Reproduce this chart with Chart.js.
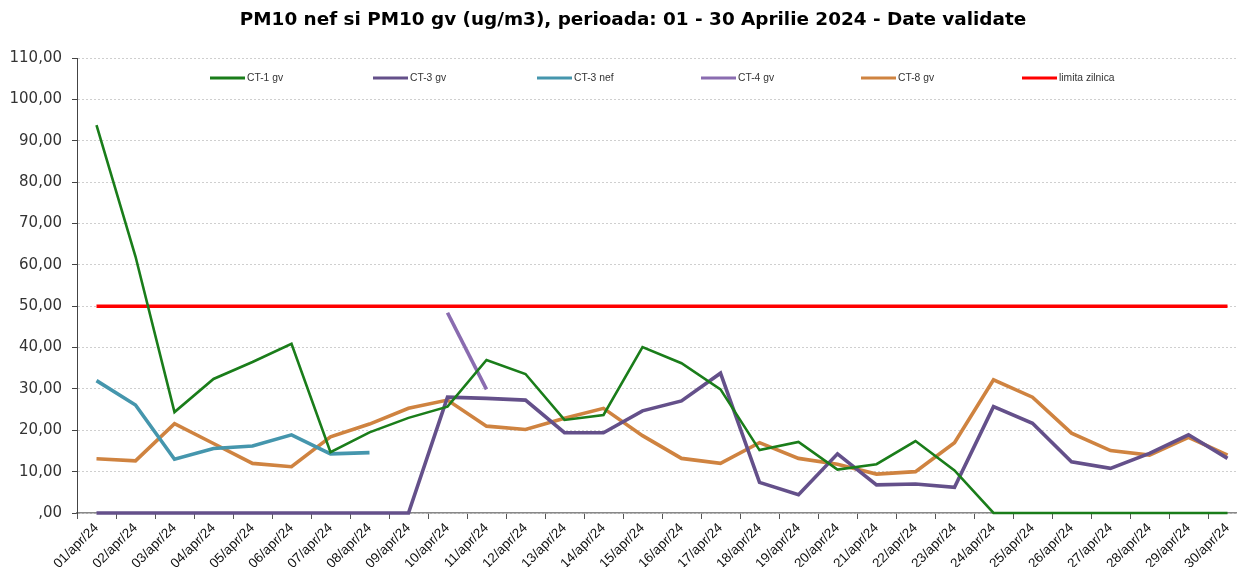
<!DOCTYPE html>
<html>
<head>
<meta charset="utf-8">
<script src="https://cdn.jsdelivr.net/npm/chart.js@4.4.1/dist/chart.umd.min.js"></script>
<style>
  html, body { margin: 0; padding: 0; background: #fff; overflow: hidden; }
  #wrap { width: 1247px; height: 567px; }
</style>
</head>
<body>
<div id="wrap"><canvas id="pm10_chart" width="1247" height="567"></canvas></div>
<script>
const days = [
  "01/apr/24", "02/apr/24", "03/apr/24", "04/apr/24", "05/apr/24", "06/apr/24",
  "07/apr/24", "08/apr/24", "09/apr/24", "10/apr/24", "11/apr/24", "12/apr/24",
  "13/apr/24", "14/apr/24", "15/apr/24", "16/apr/24", "17/apr/24", "18/apr/24",
  "19/apr/24", "20/apr/24", "21/apr/24", "22/apr/24", "23/apr/24", "24/apr/24",
  "25/apr/24", "26/apr/24", "27/apr/24", "28/apr/24", "29/apr/24", "30/apr/24",
];
const ct1Gv = [93.8, 62.0, 24.4, 32.4, 36.5, 40.9, 14.7, 19.5, 23.0, 25.7, 37.0, 33.6, 22.5, 23.7, 40.1,
  36.2, 29.9, 15.2, 17.2, 10.5, 11.8, 17.4, 10.3, 0, 0, 0, 0, 0, 0, 0];
const ct3Gv = [0, 0, 0, 0, 0, 0, 0, 0, 0, 28.0, 27.7, 27.3, 19.4, 19.4, 24.7,
  27.1, 33.8, 7.4, 4.4, 14.3, 6.8, 7.0, 6.2, 25.7, 21.7, 12.4, 10.8, 14.4, 18.9, 13.2];
const ct3Nef = [32.0, 26.1, 13.0, 15.6, 16.2, 18.9, 14.3, 14.6, null, null, null, null, null, null, null,
  null, null, null, null, null, null, null, null, null, null, null, null, null, null, null];
const ct4Gv = [null, null, null, null, null, null, null, null, null, 48.4, 29.9, null, null, null, null,
  null, null, null, null, null, null, null, null, null, null, null, null, null, null, null];
const ct8Gv = [13.1, 12.6, 21.6, 16.8, 12.0, 11.2, 18.4, 21.5, 25.3, 27.3, 21.0, 20.2, 22.9, 25.3, 18.7,
  13.2, 12.0, 17.0, 13.2, 11.8, 9.4, 10.0, 17.0, 32.2, 28.0, 19.3, 15.1, 14.0, 18.3, 14.0];
const limitaZilnica = days.map(() => 50);

const titleText = "PM10 nef si PM10 gv (ug/m3), perioada: 01 - 30 Aprilie 2024 - Date validate";

// title and legend are placed like in the excel original (legend inside the plot)
const legendX = [210, 373, 537, 701, 861, 1022];
const decorations = {
  id: "decorations",
  afterDraw(chart) {
    const ctx = chart.ctx;
    ctx.save();
    ctx.fillStyle = "#000";
    ctx.font = "bold 18.4px 'DejaVu Sans', Verdana, sans-serif";
    ctx.textAlign = "center";
    ctx.textBaseline = "middle";
    ctx.fillText(titleText, 633, 20);

    const y = 78;
    ctx.textAlign = "left";
    ctx.font = "10.3px 'Liberation Sans', Arial, sans-serif";
    chart.data.datasets.forEach((ds, i) => {
      const x = legendX[i];
      ctx.strokeStyle = ds.borderColor;
      ctx.lineWidth = 3;
      ctx.beginPath();
      ctx.moveTo(x, y);
      ctx.lineTo(x + 35, y);
      ctx.stroke();
      ctx.fillStyle = "#333";
      ctx.fillText(ds.label, x + 37, y);
    });
    ctx.restore();
  },
};

const c1 = document.getElementById("pm10_chart").getContext("2d");
new Chart(c1, {
  type: "line",
  data: {
    labels: days,
    datasets: [
      { label: "CT-1 gv", data: ct1Gv, borderColor: "#1a7d1a", borderWidth: 2.6 },
      { label: "CT-3 gv", data: ct3Gv, borderColor: "#64508a", borderWidth: 3.6 },
      { label: "CT-3 nef", data: ct3Nef, borderColor: "#4596ad", borderWidth: 3.6 },
      { label: "CT-4 gv", data: ct4Gv, borderColor: "#8a6cb0", borderWidth: 3.6 },
      { label: "CT-8 gv", data: ct8Gv, borderColor: "#cf8340", borderWidth: 3.6 },
      { label: "limita zilnica", data: limitaZilnica, borderColor: "#ff0000", borderWidth: 3.6 },
    ].map((d) => ({ ...d, pointRadius: 0, tension: 0, fill: false, spanGaps: false, clip: false })),
  },
  options: {
    responsive: false,
    animation: false,
    layout: { padding: { top: 58 } },
    plugins: {
      legend: { display: false },
      tooltip: { enabled: false },
      title: { display: false },
    },
    scales: {
      x: {
        offset: true,
        grid: { offset: true, drawOnChartArea: false, drawTicks: true, tickLength: 6, color: "#555" },
        border: { color: "#888", width: 1.5 },
        ticks: {
          autoSkip: false,
          maxRotation: 45,
          minRotation: 45,
          padding: 1,
          color: "#111",
          font: { family: "'Liberation Sans', Arial, sans-serif", size: 13.5 },
        },
        afterFit(scale) {
          scale.height = 54;
        },
      },
      y: {
        min: 0,
        max: 110,
        ticks: {
          stepSize: 10,
          padding: 10,
          color: "#333",
          font: { family: "'DejaVu Sans', Verdana, sans-serif", size: 15 },
          callback: (v) => (v === 0 ? ",00" : v.toFixed(2).replace(".", ",")),
        },
        grid: { color: "#cfcfcf", tickLength: 5, tickColor: "#444" },
        border: { dash: [2, 2], color: "#444" },
        afterFit(scale) {
          scale.width = 77;
        },
      },
    },
  },
  plugins: [decorations],
});
</script>
</body>
</html>
